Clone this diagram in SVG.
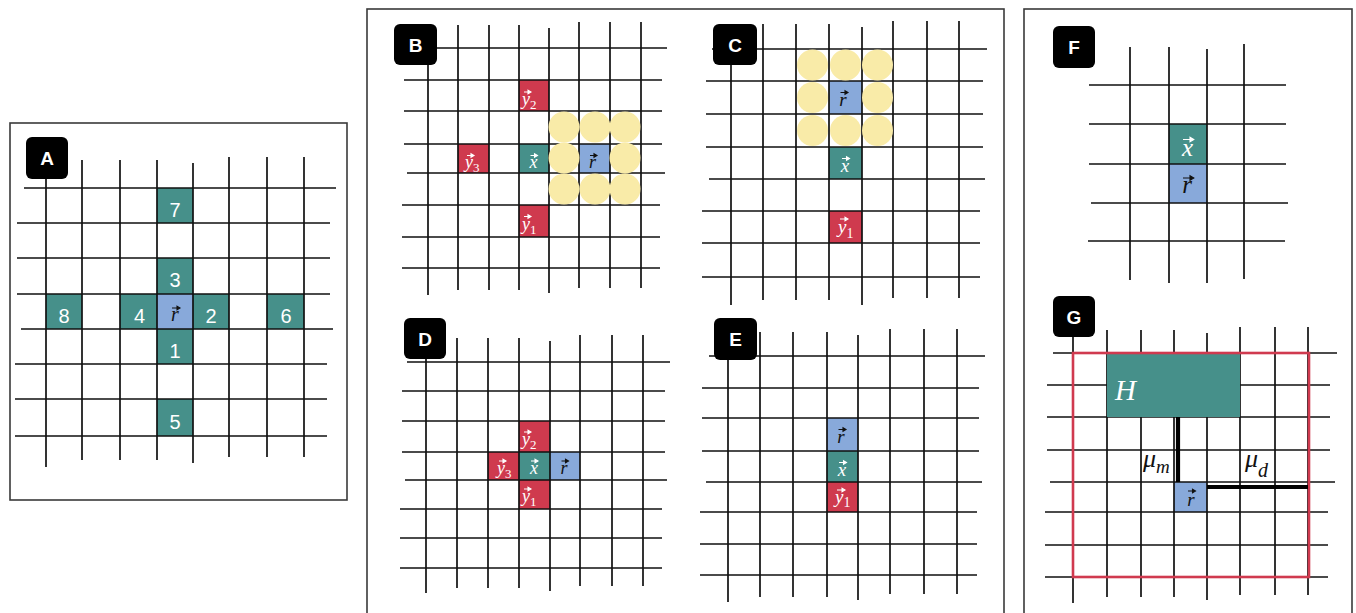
<svg xmlns="http://www.w3.org/2000/svg" width="1356" height="613" viewBox="0 0 1356 613">
<style>
.frame{fill:none;stroke:#3a3a3a;stroke-width:1.6}
.gl{fill:none;stroke:#111;stroke-width:1.7}
.teal{fill:#46908a}
.blue{fill:#88a9da}
.red{fill:#cf3a4e}
.yel{fill:#f9eba8}
.badge{fill:#000}
.bt{font-family:"Liberation Sans",Arial,sans-serif;font-weight:bold;font-size:19px;fill:#fff;text-anchor:middle}
.num{font-family:"Liberation Sans",Arial,sans-serif;font-size:20px;fill:#fff;text-anchor:middle}
.v{font-family:"Liberation Serif","Times New Roman",serif;font-style:italic}
.m{text-anchor:middle}
.vw{fill:#fff}
.vk{fill:#111}
.s{font-style:normal}
.aw{fill:#fff;stroke:#fff;stroke-width:1.1}
.ak{fill:#111;stroke:#111;stroke-width:1.1}
.thick{stroke:#000;stroke-width:4.2;fill:none}
</style>
<rect width="1356" height="613" fill="#fff"/>
<g id="frames">
<rect class="frame" x="10" y="123" width="337" height="377"/>
<rect class="frame" x="367" y="9" width="637" height="620"/>
<rect class="frame" x="1024" y="9" width="328" height="620"/>
</g>

<g id="panelA">
<rect class="teal" x="157" y="188" width="36" height="35"/>
<rect class="teal" x="157" y="258" width="36" height="36"/>
<rect class="teal" x="46" y="294" width="36" height="35"/>
<rect class="teal" x="120" y="294" width="37" height="35"/>
<rect class="blue" x="157" y="294" width="36" height="35"/>
<rect class="teal" x="193" y="294" width="36" height="35"/>
<rect class="teal" x="267" y="294" width="37" height="35"/>
<rect class="teal" x="157" y="329" width="36" height="35"/>
<rect class="teal" x="157" y="399" width="36" height="37"/>
<path class="gl" d="M46 170V467M82 160V460M120 160V460M157 160V460M193 163V463M229 157V457M267 157V457M304 157V457M24 188H336M17 223H330M17 258H330M17 294H330M21 329H333M15 364H327M15 399H327M15 436H327"/>
<text class="num" x="175" y="216.5">7</text>
<text class="num" x="175" y="287">3</text>
<text class="num" x="64" y="322.5">8</text>
<text class="num" x="139.5" y="322.5">4</text>
<text class="v m vk" x="175" y="321" font-size="20">r</text>
<path class="ak" d="M172 308H178M177 306.2L180 308L177 309.8Z"/>
<text class="num" x="211" y="322.5">2</text>
<text class="num" x="286" y="322.5">6</text>
<text class="num" x="175" y="357.5">1</text>
<text class="num" x="175" y="428.5">5</text>
<rect class="badge" x="26" y="137" width="42" height="42" rx="6"/>
<text class="bt" x="47" y="165">A</text>
</g>

<g id="panelB">
<rect class="red" x="519" y="80" width="30" height="31"/>
<rect class="red" x="458" y="144" width="31" height="29"/>
<rect class="teal" x="519" y="144" width="30" height="29"/>
<rect class="blue" x="579" y="144" width="31" height="29"/>
<rect class="red" x="519" y="205" width="30" height="32"/>
<path class="gl" d="M428 60V295M458 25V290M489 25V290M519 25V290M549 28V293M579 22V288M610 22V288M641 22V288M430 48H667M404 80H662M404 111H662M404 144H662M407 173H665M402 205H660M402 237H660M402 268H660"/>
<g class="yel">
<circle cx="564" cy="127" r="15.5"/><circle cx="595" cy="127" r="15.5"/><circle cx="625" cy="127" r="15.5"/>
<circle cx="564" cy="158" r="15.5"/><circle cx="625" cy="158" r="15.5"/>
<circle cx="564" cy="189" r="15.5"/><circle cx="595" cy="189" r="15.5"/><circle cx="625" cy="189" r="15.5"/>
</g>
<text class="v vw" x="522" y="105" font-size="18">y<tspan class="s" font-size="13" dy="4">2</tspan></text>
<path class="aw" d="M524 92H529M528 90.2L531 92L528 93.8Z"/>
<text class="v vw" x="465" y="168" font-size="18">y<tspan class="s" font-size="13" dy="4">3</tspan></text>
<path class="aw" d="M467 155.5H472M471 153.7L474 155.5L471 157.3Z"/>
<text class="v m vw" x="533.5" y="168" font-size="18">x</text>
<path class="aw" d="M530.5 155.5H535.5M534.5 153.7L537.5 155.5L534.5 157.3Z"/>
<text class="v m vk" x="592.5" y="168" font-size="18">r</text>
<path class="ak" d="M590 155.5H595M594 153.7L597 155.5L594 157.3Z"/>
<text class="v vw" x="522" y="229.5" font-size="18">y<tspan class="s" font-size="13" dy="4">1</tspan></text>
<path class="aw" d="M524 216.5H529M528 214.7L531 216.5L528 218.3Z"/>
<rect class="badge" x="394" y="24" width="43" height="41" rx="6"/>
<text class="bt" x="415.5" y="51.5">B</text>
</g>

<g id="panelC">
<rect class="blue" x="829" y="81" width="33" height="33"/>
<rect class="teal" x="829" y="147" width="33" height="32"/>
<rect class="red" x="829" y="211" width="33" height="32"/>
<path class="gl" d="M731 60V305M763 24V300M796 24V300M829 24V300M862 27V305M893 21V298M927 21V298M959 21V298M712 49H987M706 81H983M706 114H983M706 147H983M709 179H985M702 211H980M702 243H980M702 277H980"/>
<g class="yel">
<circle cx="812.5" cy="65" r="15.5"/><circle cx="845.5" cy="65" r="15.5"/><circle cx="877.5" cy="65" r="15.5"/>
<circle cx="812.5" cy="97.5" r="15.5"/><circle cx="877.5" cy="97.5" r="15.5"/>
<circle cx="812.5" cy="130.5" r="15.5"/><circle cx="845.5" cy="130.5" r="15.5"/><circle cx="877.5" cy="130.5" r="15.5"/>
</g>
<text class="v m vk" x="843" y="106" font-size="19">r</text>
<path class="ak" d="M840.5 92.5H846M845 90.7L848 92.5L845 94.3Z"/>
<text class="v m vw" x="845" y="172" font-size="19">x</text>
<path class="aw" d="M842 158.5H847.5M846.5 156.7L849.5 158.5L846.5 160.3Z"/>
<text class="v vw" x="838" y="233" font-size="19">y<tspan class="s" font-size="14" dy="5">1</tspan></text>
<path class="aw" d="M840 219H846M845 217.2L848 219L845 220.8Z"/>
<rect class="badge" x="713" y="24" width="44" height="41" rx="6"/>
<text class="bt" x="735" y="51.5">C</text>
</g>

<g id="panelD">
<rect class="red" x="519" y="421" width="31" height="31"/>
<rect class="red" x="488" y="452" width="31" height="28"/>
<rect class="teal" x="519" y="452" width="31" height="28"/>
<rect class="blue" x="550" y="452" width="30" height="28"/>
<rect class="red" x="519" y="480" width="31" height="29"/>
<path class="gl" d="M426 350V593M457 338V588M488 338V588M519 338V588M550 341V591M580 335V586M612 335V586M643 335V586M407 362H670M402 391H665M402 421H665M402 452H665M405 480H667M400 509H662M400 538H662M400 568H662"/>
<text class="v vw" x="522" y="445" font-size="18">y<tspan class="s" font-size="13" dy="4">2</tspan></text>
<path class="aw" d="M524 432H529M528 430.2L531 432L528 433.8Z"/>
<text class="v vw" x="497" y="474" font-size="18">y<tspan class="s" font-size="13" dy="4">3</tspan></text>
<path class="aw" d="M499 461H504M503 459.2L506 461L503 462.8Z"/>
<text class="v m vw" x="534" y="474" font-size="18">x</text>
<path class="aw" d="M531 461H536M535 459.2L538 461L535 462.8Z"/>
<text class="v m vk" x="564" y="474" font-size="18">r</text>
<path class="ak" d="M561.5 461H566.5M565.5 459.2L568.5 461L565.5 462.8Z"/>
<text class="v vw" x="522" y="502" font-size="18">y<tspan class="s" font-size="13" dy="4">1</tspan></text>
<path class="aw" d="M524 489H529M528 487.2L531 489L528 490.8Z"/>
<rect class="badge" x="404" y="318" width="42" height="41" rx="6"/>
<text class="bt" x="425" y="345.5">D</text>
</g>

<g id="panelE">
<rect class="blue" x="827" y="418" width="31" height="33"/>
<rect class="teal" x="827" y="451" width="31" height="31"/>
<rect class="red" x="827" y="482" width="31" height="30"/>
<path class="gl" d="M728 350V602M760 332V597M793 332V597M827 332V597M858 335V600M890 329V594M924 329V594M957 329V594M709 356H985M702 388H979M702 418H979M702 451H979M706 482H982M700 512H977M700 544H977M700 575H977"/>
<text class="v m vk" x="841" y="443" font-size="19">r</text>
<path class="ak" d="M838.5 429.5H844M843 427.7L846 429.5L843 431.3Z"/>
<text class="v m vw" x="842" y="476" font-size="19">x</text>
<path class="aw" d="M839 462.5H844.5M843.5 460.7L846.5 462.5L843.5 464.3Z"/>
<text class="v vw" x="835" y="503" font-size="19">y<tspan class="s" font-size="14" dy="4">1</tspan></text>
<path class="aw" d="M837 490H843M842 488.2L845 490L842 491.8Z"/>
<rect class="badge" x="714" y="318" width="43" height="42" rx="6"/>
<text class="bt" x="735.5" y="346">E</text>
</g>

<g id="panelF">
<rect class="teal" x="1169" y="124" width="38" height="40"/>
<rect class="blue" x="1169" y="164" width="38" height="39"/>
<path class="gl" d="M1130 47V280M1169 47V283M1207 49V283M1244 44V279M1089 85H1286M1089 124H1286M1089 164H1286M1091 203H1288M1088 241H1285"/>
<text class="v m vw" x="1187.5" y="155.5" font-size="25">x</text>
<path class="aw" d="M1183 139.5H1191M1190 137.2L1193.8 139.5L1190 141.8Z" stroke-width="1.5"/>
<text class="v m vk" x="1187" y="193" font-size="25">r</text>
<path class="ak" d="M1183 178H1191M1190 175.7L1193.8 178L1190 180.3Z" stroke-width="1.5"/>
<rect class="badge" x="1053" y="26" width="42" height="42" rx="6"/>
<text class="bt" x="1074" y="54">F</text>
</g>

<g id="panelG">
<rect class="blue" x="1174" y="482" width="33" height="30"/>
<path class="gl" d="M1073 330V603M1107 330V597M1141 330V597M1174 330V597M1207 333V600M1240 327V595M1275 327V595M1308 327V595M1053 353H1337M1047 385H1330M1047 417H1330M1047 450H1330M1050 482H1335M1045 512H1328M1045 545H1328M1045 577H1328"/>
<rect class="teal" x="1107" y="353" width="133" height="64"/>
<rect x="1073" y="353" width="236" height="224" fill="none" stroke="#d03a4f" stroke-width="2.6"/>
<path class="thick" d="M1178 417V482"/>
<path class="thick" d="M1207 487H1308"/>
<text class="v vw" x="1115" y="400" font-size="29">H</text>
<text class="v vk" x="1143" y="467" font-size="26">μ<tspan font-size="19" dy="6">m</tspan></text>
<text class="v vk" x="1245" y="467" font-size="26">μ<tspan font-size="20" dy="10">d</tspan></text>
<text class="v m vk" x="1191" y="506" font-size="19">r</text>
<path class="ak" d="M1188 491H1193.5M1192.5 489.2L1195.5 491L1192.5 492.8Z"/>
<rect class="badge" x="1053" y="296" width="42" height="41" rx="6"/>
<text class="bt" x="1074" y="323.5">G</text>
</g>
</svg>
